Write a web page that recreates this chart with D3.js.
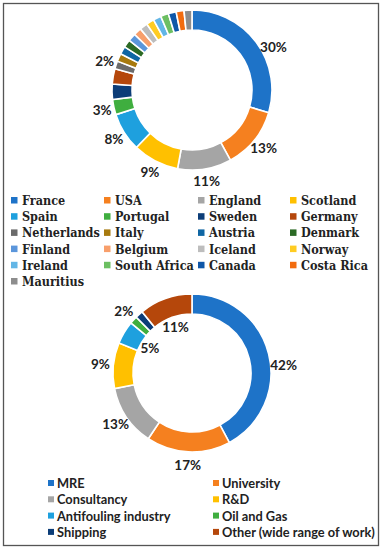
<!DOCTYPE html>
<html><head><meta charset="utf-8">
<script src="https://cdn.jsdelivr.net/npm/d3@7"></script>
<style>
html,body{margin:0;padding:0;background:#fff;}
svg{display:block;}
</style></head>
<body>
<svg id="chart" width="382" height="550"></svg>
<script>
// ---------- DATA ----------
const countries = ["France","USA","England","Scotland","Spain","Portugal","Sweden","Germany","Netherlands","Italy","Austria","Denmark","Finland","Belgium","Iceland","Norway","Ireland","South Africa","Canada","Costa Rica","Mauritius"];
const countryShare = [29.7,12.5,10.9,9.4,7.8,3.1,3.1,3.1,1.6,1.6,1.6,1.6,1.6,1.6,1.6,1.6,1.6,1.6,1.6,1.6,1.6];
const countryLabels = ["30%","13%","11%","9%","8%","3%","","","2%","","","","","","","","","","","",""];
const countryColors = ["#1e73c8","#f5801f","#a5a5a5","#ffc000","#1ea0de","#3fae3f","#0c3d78","#b5470b","#6b6b6b","#a77a0f","#0f66a3","#2b6a25","#5b96db","#f89f6b","#bdbdbd","#ffcc22","#63b6e6","#6cbf62","#0f57a8","#f26c10","#8d8d8d"];

const sectors = ["MRE","University","Consultancy","R&D","Antifouling industry","Oil and Gas","Shipping","Other (wide range of work)"];
const sectorShare = [42.2,17.2,12.5,9.4,4.7,1.6,1.6,10.9];
const sectorLabels = ["42%","17%","13%","9%","5%","2%","","11%"];
const sectorColors = ["#1e73c8","#f5801f","#a5a5a5","#ffc000","#1ea0de","#3fae3f","#0c3d78","#b5470b"];

// ---------- LAYOUT ----------
const svg = d3.select("#chart");
svg.append("rect").attr("x",3.5).attr("y",3.5).attr("width",375).attr("height",542)
  .attr("fill","#fff").attr("stroke","#555").attr("stroke-width",1.3);

const labelFont = "Lato, 'Open Sans', sans-serif";

function donut(opts){
  const g = svg.append("g").attr("transform",`translate(${opts.cx},${opts.cy})`);
  const pie = d3.pie().sort(null).value(d=>d.v);
  const arcs = pie(opts.values.map((v,i)=>({v,i})));
  const arc = d3.arc().innerRadius(opts.ri).outerRadius(opts.ro);
  g.selectAll("path").data(arcs).join("path")
    .attr("d",arc).attr("fill",d=>opts.colors[d.data.i])
    .attr("stroke","#fff").attr("stroke-width",1.6);
  arcs.forEach(a=>{
    const t = opts.labels[a.data.i];
    if(!t) return;
    const nudge = (opts.nudge[a.data.i]||0)*Math.PI/180;
    const ang = (a.startAngle+a.endAngle)/2 + nudge;
    const r = opts.inside.includes(a.data.i) ? opts.rin : opts.rout;
    g.append("text").attr("x",Math.sin(ang)*r).attr("y",-Math.cos(ang)*r)
      .attr("text-anchor","middle").attr("dominant-baseline","central")
      .attr("font-family",labelFont).attr("font-weight","bold").attr("font-size",13.5)
      .attr("fill","#222").text(t);
  });
}

donut({cx:192,cy:90,ro:80,ri:60,values:countryShare,colors:countryColors,labels:countryLabels,
  rout:92,rin:49,inside:[],nudge:{0:9}});
donut({cx:192,cy:373,ro:79,ri:59,values:sectorShare,colors:sectorColors,labels:sectorLabels,
  rout:92,rin:49,inside:[4,7],nudge:{0:9}});

// top legend (serif)
const tl = svg.append("g");
const colX = d3.scaleOrdinal().domain([0,1,2,3]).range([11,104,198,290]);
const rowY = d3.scaleLinear().domain([0,1]).range([200,216.2]);
countries.forEach((c,i)=>{
  const col=i%4,row=Math.floor(i/4);
  const x=colX(col),y=rowY(row);
  tl.append("rect").attr("x",x).attr("y",y-3).attr("width",6.5).attr("height",6.5).attr("fill",countryColors[i]);
  tl.append("text").attr("x",x+11).attr("y",y+0.5).attr("dominant-baseline","central")
    .attr("font-family","'DejaVu Serif','Liberation Serif',serif")
    .style("font-stretch","condensed").attr("font-weight","bold")
    .attr("font-size",12.5).attr("fill","#222").text(c);
});

// bottom legend (sans)
const bl = svg.append("g");
const bColX = d3.scaleOrdinal().domain([0,1]).range([48,213]);
const bRowY = d3.scaleLinear().domain([0,1]).range([483,499.3]);
sectors.forEach((s,i)=>{
  const col=i%2,row=Math.floor(i/2);
  const x=bColX(col),y=bRowY(row);
  bl.append("rect").attr("x",x).attr("y",y-3).attr("width",6).attr("height",6).attr("fill",sectorColors[i]);
  bl.append("text").attr("x",x+9).attr("y",y).attr("dominant-baseline","central")
    .attr("font-family",labelFont).attr("font-weight","bold")
    .attr("font-size",12.8).attr("fill","#222").text(s);
});
</script>
</body></html>
